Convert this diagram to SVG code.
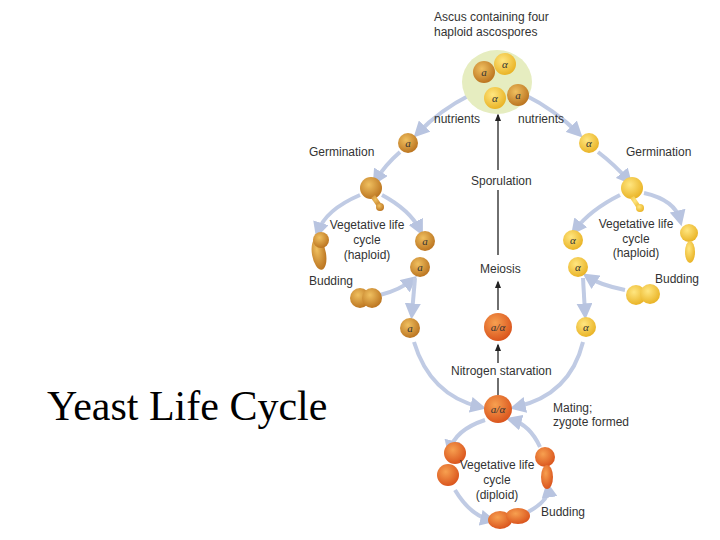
<svg xmlns="http://www.w3.org/2000/svg" width="720" height="540" viewBox="0 0 720 540">
<defs>
<radialGradient id="ya" cx="0.4" cy="0.35" r="0.7"><stop offset="0" stop-color="#f0c060"/><stop offset="1" stop-color="#b8701c"/></radialGradient>
<radialGradient id="yb" cx="0.4" cy="0.35" r="0.7"><stop offset="0" stop-color="#ffe680"/><stop offset="1" stop-color="#e8b020"/></radialGradient>
<radialGradient id="yd" cx="0.4" cy="0.35" r="0.7"><stop offset="0" stop-color="#f7a050"/><stop offset="1" stop-color="#d8501a"/></radialGradient>
<marker id="ba" viewBox="0 0 10 10" refX="6" refY="5" markerWidth="4" markerHeight="4" orient="auto"><path d="M0,0L10,5L0,10z" fill="#b8c4e0"/></marker>
<marker id="ka" viewBox="0 0 10 10" refX="8" refY="5" markerWidth="6" markerHeight="6" orient="auto"><path d="M0,1L10,5L0,9z" fill="#222"/></marker>
<style>
.t{font-family:"Liberation Sans",Arial,sans-serif;font-size:12px;fill:#333}
.c{font-family:"Liberation Serif",serif;font-size:11px;font-style:italic;fill:#333;text-anchor:middle}
.g{fill:none;stroke:#c0cbe4;stroke-width:4;marker-end:url(#ba)}
.a{fill:url(#ya)}.b{fill:url(#yb)}.d{fill:url(#yd)}
</style>
</defs>
<rect width="720" height="540" fill="#fff"/>
<text x="47" y="420" font-family="Liberation Serif,serif" font-size="42" fill="#000">Yeast Life Cycle</text>
<g id="connectors">
<path class="g" d="M470,95 Q440,110 418,133"/>
<path class="g" d="M400,152 Q385,165 376,180"/>
<path class="g" d="M525,95 Q555,110 578,133"/>
<path class="g" d="M598,152 Q615,165 628,180"/>
<path class="g" d="M360,195 Q325,210 318,232"/>
<path class="g" d="M382,195 Q410,210 420,230"/>
<path class="g" d="M380,295 Q400,290 412,280"/>
<path class="g" d="M620,195 Q590,210 575,230"/>
<path class="g" d="M644,193 Q675,200 680,220"/>
<path class="g" d="M625,290 Q600,285 588,277"/>
<path class="g" d="M415,278 L412,313"/>
<path class="g" d="M583,278 L585,313"/>
<path class="g" d="M414,342 Q430,395 480,407"/>
<path class="g" d="M583,342 Q570,395 516,407"/>
<path class="g" d="M485,420 Q455,430 450,450"/>
<path class="g" d="M455,490 Q470,515 490,520"/>
<path class="g" d="M528,512 Q550,500 548,488"/>
<path class="g" d="M540,447 Q530,425 512,420"/>
<line x1="498" y1="380" x2="498" y2="345" stroke="#222" stroke-width="1.3" marker-end="url(#ka)"/>
<line x1="498" y1="395" x2="498" y2="380" stroke="#222" stroke-width="1.3"/>
<line x1="498" y1="310" x2="498" y2="282" stroke="#222" stroke-width="1.3" marker-end="url(#ka)"/>
<line x1="498" y1="255" x2="498" y2="190" stroke="#222" stroke-width="1.3"/>
<line x1="498" y1="170" x2="498" y2="115" stroke="#222" stroke-width="1.3" marker-end="url(#ka)"/>
</g>
<g id="ascus">
<ellipse cx="497" cy="82" rx="35" ry="32" fill="#e6edc0"/>
<circle class="a" cx="484" cy="72" r="11"/><text class="c" x="484" y="76">a</text>
<circle class="b" cx="505" cy="64" r="11"/><text class="c" x="505" y="68">α</text>
<circle class="b" cx="495" cy="98" r="11"/><text class="c" x="495" y="102">α</text>
<circle class="a" cx="518" cy="95" r="11"/><text class="c" x="518" y="99">a</text>
<text class="t" x="434" y="21">Ascus containing four</text>
<text class="t" x="434" y="36">haploid ascospores</text>
<text class="t" x="434" y="123">nutrients</text>
<text class="t" x="518" y="123">nutrients</text>
</g>
<g id="left-haploid">
<circle class="a" cx="408" cy="143" r="10"/><text class="c" x="408" y="147">a</text>
<text class="t" x="309" y="156" font-size="11">Germination</text>
<circle class="a" cx="371" cy="188" r="11"/><path class="a" d="M375,195 L382,205 L378,208 L371,198z"/><circle class="a" cx="380" cy="207" r="4"/>
<ellipse class="a" cx="319" cy="254" rx="7" ry="16" transform="rotate(-10 319 254)"/><circle class="a" cx="321" cy="240" r="8"/>
<circle class="a" cx="425" cy="241" r="10"/><text class="c" x="425" y="245">a</text>
<circle class="a" cx="420" cy="267" r="10"/><text class="c" x="420" y="271">a</text>
<circle class="a" cx="360" cy="298" r="10"/><circle class="a" cx="372" cy="298" r="10"/>
<text class="t" x="367" y="229" text-anchor="middle">Vegetative life</text>
<text class="t" x="367" y="244" text-anchor="middle">cycle</text>
<text class="t" x="367" y="259" text-anchor="middle">(haploid)</text>
<text class="t" x="309" y="285" font-size="11">Budding</text>
</g>
<g id="right-haploid">
<circle class="b" cx="589" cy="143" r="10"/><text class="c" x="589" y="147">α</text>
<text class="t" x="626" y="156">Germination</text>
<circle class="b" cx="632" cy="188" r="11"/><path class="b" d="M634,196 L642,208 L638,210 L630,198z"/><circle class="b" cx="640" cy="208" r="4"/>
<circle class="b" cx="689" cy="233" r="9"/><ellipse class="b" cx="690" cy="252" rx="5" ry="11"/>
<circle class="b" cx="573" cy="240" r="10"/><text class="c" x="573" y="244">α</text>
<circle class="b" cx="578" cy="267" r="10"/><text class="c" x="578" y="271">α</text>
<circle class="b" cx="636" cy="295" r="10"/><circle class="b" cx="650" cy="294" r="10"/>
<text class="t" x="636" y="228" text-anchor="middle">Vegetative life</text>
<text class="t" x="636" y="243" text-anchor="middle">cycle</text>
<text class="t" x="636" y="257" text-anchor="middle">(haploid)</text>
<text class="t" x="655" y="283" font-size="11">Budding</text>
</g>
<g id="center">
<rect x="450" y="363" width="112" height="15" fill="#fff"/>
<text class="t" x="451" y="375">Nitrogen starvation</text>
<text class="t" x="471" y="185">Sporulation</text>
<text class="t" x="480" y="273">Meiosis</text>
<circle class="a" cx="410" cy="328" r="10"/><text class="c" x="410" y="332">a</text>
<circle class="d" cx="498" cy="327" r="14"/><text class="c" x="498" y="331">a/α</text>
<circle class="b" cx="586" cy="327" r="10"/><text class="c" x="586" y="331">α</text>
</g>
<g id="diploid">
<circle class="d" cx="498" cy="409" r="14"/><text class="c" x="498" y="413">a/α</text>
<text class="t" x="553" y="412" font-size="11">Mating;</text>
<text class="t" x="553" y="426" font-size="11">zygote formed</text>
<circle class="d" cx="455" cy="453" r="11"/><circle class="d" cx="448" cy="475" r="11"/>
<circle class="d" cx="545" cy="457" r="10"/><ellipse class="d" cx="547" cy="477" rx="6" ry="12"/>
<ellipse class="d" cx="500" cy="520" rx="12" ry="9"/><ellipse class="d" cx="518" cy="516" rx="12" ry="8"/>
<text class="t" x="497" y="469" text-anchor="middle">Vegetative life</text>
<text class="t" x="497" y="484" text-anchor="middle">cycle</text>
<text class="t" x="497" y="499" text-anchor="middle">(diploid)</text>
<text class="t" x="541" y="516">Budding</text>
</g>
</svg>
